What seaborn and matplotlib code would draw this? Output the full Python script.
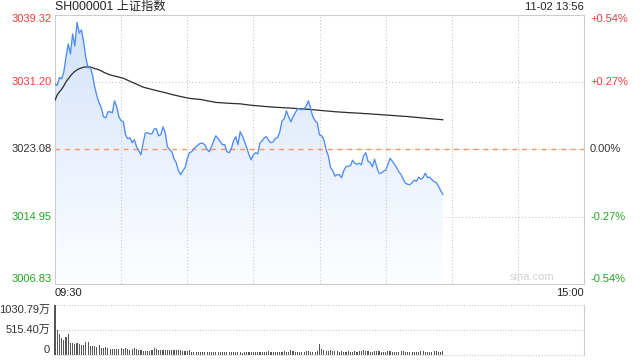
import numpy as np
import pandas as pd
import matplotlib
matplotlib.use("Agg")
import matplotlib.pyplot as plt
import matplotlib.transforms as mtrans
from matplotlib.colors import LinearSegmentedColormap
import seaborn as sns

# ---------------- data ----------------
price = [
    3030.96, 3030.78, 3031.74, 3031.56, 3032.40, 3034.21, 3035.77, 3034.57, 3036.97, 3035.53,
    3038.36, 3037.09, 3037.46, 3036.01, 3034.09, 3032.88, 3033.00, 3032.04, 3030.60, 3029.51,
    3028.67, 3028.07, 3026.99, 3026.87, 3027.59, 3027.59, 3027.47, 3028.91, 3028.19, 3026.99,
    3026.51, 3026.39, 3024.82, 3024.34, 3024.46, 3023.86, 3024.22, 3023.38, 3022.90, 3022.41,
    3023.86, 3025.06, 3025.06, 3024.94, 3024.94, 3025.54, 3025.54, 3024.70, 3024.82, 3025.78,
    3025.06, 3023.38, 3023.02, 3022.78, 3021.93, 3021.45, 3020.49, 3020.01, 3020.49, 3020.85,
    3021.93, 3022.66, 3022.78, 3023.14, 3023.38, 3023.62, 3023.80, 3023.80, 3023.62, 3023.02,
    3022.78, 3023.38, 3024.10, 3024.70, 3024.34, 3023.98, 3023.62, 3023.62, 3022.78, 3022.66,
    3023.14, 3024.10, 3024.58, 3023.62, 3025.18, 3024.70, 3023.98, 3023.26, 3022.41, 3021.81,
    3022.41, 3022.66, 3022.53, 3023.86, 3024.10, 3024.46, 3024.58, 3024.10, 3023.86, 3023.98,
    3024.40, 3024.46, 3025.18, 3026.51, 3026.75, 3027.71, 3026.99, 3026.39, 3026.99, 3027.47,
    3027.95, 3027.95, 3027.83, 3027.95, 3028.31, 3028.91, 3027.95, 3026.99, 3026.51, 3026.26,
    3024.82, 3024.70, 3024.22, 3023.02, 3022.29, 3020.85, 3020.49, 3019.83, 3020.01, 3020.01,
    3019.65, 3020.49, 3020.97, 3021.03, 3021.09, 3021.75, 3021.39, 3021.27, 3021.39, 3021.21,
    3022.29, 3022.66, 3021.63, 3021.45, 3020.97, 3021.87, 3020.91, 3020.19, 3020.19, 3020.43,
    3020.55, 3021.21, 3021.99, 3021.63, 3021.27, 3020.85, 3020.37, 3020.01, 3019.47, 3018.98,
    3018.86, 3018.80, 3019.04, 3019.35, 3019.23, 3019.71, 3019.47, 3019.65, 3020.19, 3019.65,
    3019.71, 3019.41, 3019.17, 3019.04, 3018.62, 3018.08, 3017.60,
]

avg_price = [
    3028.97, 3029.63, 3029.99, 3030.30, 3030.72, 3031.20, 3031.56, 3031.92, 3032.22, 3032.46,
    3032.64, 3032.79, 3032.88, 3032.97, 3033.00, 3033.00, 3033.00, 3032.91, 3032.80, 3032.73,
    3032.64, 3032.52, 3032.37, 3032.25, 3032.14, 3032.04, 3031.97, 3031.90, 3031.82, 3031.76,
    3031.70, 3031.63, 3031.51, 3031.39, 3031.27, 3031.15, 3031.03, 3030.91, 3030.79, 3030.67,
    3030.56, 3030.49, 3030.42, 3030.36, 3030.28, 3030.21, 3030.15, 3030.08, 3030.02, 3029.96,
    3029.90, 3029.83, 3029.75, 3029.68, 3029.61, 3029.55, 3029.49, 3029.43, 3029.37, 3029.31,
    3029.26, 3029.21, 3029.18, 3029.15, 3029.13, 3029.10, 3029.08, 3029.03, 3028.97, 3028.92,
    3028.88, 3028.82, 3028.77, 3028.72, 3028.70, 3028.67, 3028.66, 3028.65, 3028.64, 3028.61,
    3028.60, 3028.59, 3028.58, 3028.56, 3028.55, 3028.52, 3028.48, 3028.44, 3028.41, 3028.38,
    3028.36, 3028.33, 3028.31, 3028.29, 3028.26, 3028.24, 3028.21, 3028.19, 3028.18, 3028.15,
    3028.14, 3028.13, 3028.11, 3028.09, 3028.08, 3028.07, 3028.05, 3028.03, 3028.02, 3028.00,
    3027.99, 3027.97, 3027.95, 3027.94, 3027.91, 3027.89, 3027.87, 3027.84, 3027.82, 3027.79,
    3027.77, 3027.74, 3027.72, 3027.70, 3027.67, 3027.65, 3027.62, 3027.60, 3027.58, 3027.55,
    3027.54, 3027.53, 3027.52, 3027.49, 3027.48, 3027.47, 3027.46, 3027.43, 3027.42, 3027.41,
    3027.38, 3027.37, 3027.36, 3027.34, 3027.31, 3027.30, 3027.28, 3027.26, 3027.24, 3027.23,
    3027.20, 3027.19, 3027.17, 3027.14, 3027.13, 3027.11, 3027.08, 3027.07, 3027.05, 3027.04,
    3027.01, 3026.99, 3026.96, 3026.94, 3026.91, 3026.89, 3026.87, 3026.84, 3026.82, 3026.79,
    3026.77, 3026.75, 3026.72, 3026.70, 3026.67, 3026.65, 3026.63,
]

volume = [  # 万
    1030.79, 508, 439, 355, 313, 369, 439, 251, 251, 237,
    251, 230, 209, 209, 258, 258, 188, 188, 181, 160,
    209, 153, 153, 167, 146, 125, 125, 125, 125, 125,
    146, 132, 146, 125, 111, 125, 139, 118, 104, 104,
    90, 84, 84, 90, 104, 139, 118, 104, 104, 104,
    104, 104, 104, 104, 104, 104, 104, 104, 84, 84,
    84, 104, 70, 70, 56, 70, 56, 63, 70, 70,
    70, 70, 70, 70, 70, 70, 70, 70, 70, 70,
    56, 56, 70, 70, 56, 49, 56, 56, 56, 63,
    70, 63, 56, 70, 63, 56, 70, 77, 63, 56,
    63, 70, 56, 63, 84, 70, 63, 111, 90, 70,
    63, 56, 63, 70, 77, 84, 70, 63, 70, 84,
    230, 125, 97, 84, 90, 104, 84, 77, 84, 70,
    77, 70, 63, 77, 70, 63, 84, 70, 77, 90,
    97, 84, 77, 70, 63, 77, 90, 84, 70, 63,
    70, 77, 84, 70, 63, 56, 70, 77, 84, 70,
    63, 56, 70, 63, 56, 70, 77, 84, 63, 56,
    63, 70, 84, 77, 63, 56, 90,
]

prev_close = 3023.08
y_ticks = [3039.32, 3031.20, 3023.08, 3014.95, 3006.83]
y_labels = ["3039.32", "3031.20", "3023.08", "3014.95", "3006.83"]
pct_labels = ["+0.54%", "+0.27%", "0.00%", "-0.27%", "-0.54%"]
vol_ticks = [1030.79, 515.40, 0]
vol_labels = ["1030.79万", "515.40万", "0"]
title = "SH000001 上证指数"
stamp = "11-02 13:56"
time_labels = ["09:30", "15:00"]

# ---------------- style ----------------
sns.set_style("white")
plt.rcParams["font.family"] = ["Liberation Sans", "Noto Sans CJK SC", "DejaVu Sans"]

RED = "#f03c3c"
GREEN = "#22a822"
DARK = "#333333"
GRID = "#c8c8c8"
FS = 8.0

W, H = 640, 360
fig = plt.figure(figsize=(6.4, 3.6), dpi=100)


def rect(l, t, r, b):
    return [l / W, 1 - b / H, (r - l) / W, (b - t) / H]


ax = fig.add_axes(rect(55, 14.5, 584, 284))
axv = fig.add_axes(rect(55, 305, 584, 355))

n = len(price)
df = pd.DataFrame({"minute": np.arange(n), "price": price, "avg": avg_price, "volume": volume})
ymin, ymax = y_ticks[-1], y_ticks[0]

# gradient area under the price line
poly = ax.fill_between(df["minute"], df["price"], ymin, facecolor="none", edgecolor="none")
cmap = LinearSegmentedColormap.from_list("g", ["#fdfeff", "#eaf1fd", "#d2e2fb"])
grad = np.linspace(0, 1, 256).reshape(-1, 1)
img = ax.imshow(grad, extent=[0, n - 1, ymin, max(price)], origin="lower",
                aspect="auto", cmap=cmap, zorder=1, interpolation="bilinear")
img.set_clip_path(poly.get_paths()[0], transform=ax.transData)

# grid
for v in y_ticks[1:-1]:
    ax.axhline(v, color=GRID, lw=0.8, ls=(0, (1, 2)), zorder=0.5)
for m in range(30, 240, 30):
    ax.axvline(m, color=GRID, lw=0.8, ls=(0, (1, 2)), zorder=1.5)
ax.axhline(prev_close, color="#f0965f", lw=1.0, ls=(0, (3.5, 3.5)), zorder=2)

sns.lineplot(data=df, x="minute", y="avg", ax=ax, color="#2b2b2b", linewidth=0.9, zorder=3)
sns.lineplot(data=df, x="minute", y="price", ax=ax, color="#4d8cf2", linewidth=0.95, zorder=4)

ax.set_xlim(0, 240)
ax.set_ylim(ymin, ymax)
ax.set_xticks([])
ax.set_yticks([])
ax.set_xlabel("")
ax.set_ylabel("")
for s in ax.spines.values():
    s.set_color("#cccccc")
    s.set_linewidth(0.8)

trans = mtrans.blended_transform_factory(ax.transAxes, ax.transData)
for k, (v, lab, pl) in enumerate(zip(y_ticks, y_labels, pct_labels)):
    col = RED if v > prev_close else (GREEN if v < prev_close else DARK)
    va = "top" if k == 0 else ("bottom" if k == len(y_ticks) - 1 else "center")
    ax.text(-3 / 529, v, lab, transform=trans, ha="right", va=va, color=col, fontsize=FS)
    ax.text(1 + 6 / 529, v, pl, transform=trans, ha="left", va=va, color=col, fontsize=FS)

ax.text(0.902, 0.025, "sina.com", transform=ax.transAxes, ha="center", va="center",
        color="#d0d0d0", fontsize=8, zorder=5)

# volume
sns.barplot(data=df, x="minute", y="volume", ax=axv, native_scale=True, color="#555555",
            width=0.5, errorbar=None, saturation=1, linewidth=0)
for p in axv.patches:
    p.set_clip_on(False)
axv.set_xlim(0, 240)
axv.set_ylim(0, vol_ticks[0])
axv.set_xticks([])
axv.set_yticks([])
axv.set_xlabel("")
axv.set_ylabel("")
for side in ["top", "bottom", "left"]:
    axv.spines[side].set_visible(False)
axv.spines["right"].set_color("#cccccc")
axv.spines["right"].set_linewidth(0.8)
for v in vol_ticks:
    axv.axhline(v, color=GRID, lw=0.8, ls=(0, (1, 1.5)), zorder=0.5, clip_on=False)
transv = mtrans.blended_transform_factory(axv.transAxes, axv.transData)
for k, (v, lab) in enumerate(zip(vol_ticks, vol_labels)):
    va = "top" if k == 0 else ("bottom" if k == len(vol_ticks) - 1 else "center")
    axv.text(-5 / 529, v, lab, transform=transv, ha="right", va=va, color=DARK, fontsize=FS)

# header and time labels
fig.text(55 / W, 1 - 7.3 / H, title, ha="left", va="center", fontsize=8.8, color="#222222")
fig.text(584 / W, 1 - 7.5 / H, stamp, ha="right", va="center", fontsize=FS, color="#222222")
fig.text(55 / W, 1 - 293 / H, time_labels[0], ha="left", va="center", fontsize=FS, color="#222222")
fig.text(584 / W, 1 - 293 / H, time_labels[1], ha="right", va="center", fontsize=FS, color="#222222")

fig.savefig("out.png", dpi=100)
